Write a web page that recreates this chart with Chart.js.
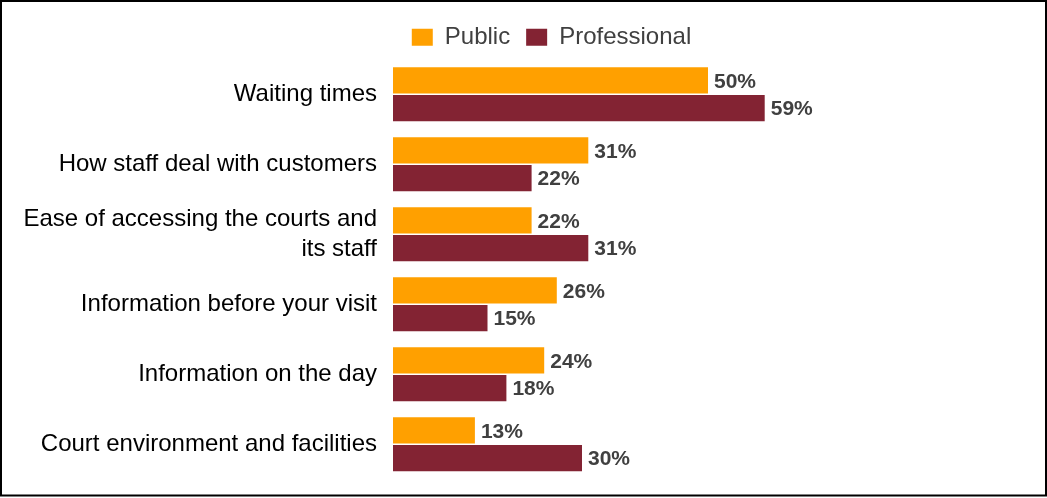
<!DOCTYPE html>
<html>
<head>
<meta charset="utf-8">
<style>
  html, body { margin: 0; padding: 0; background: #fff; }
  #wrap { width: 1047px; height: 498px; position: relative; }
</style>
<script src="https://cdn.jsdelivr.net/npm/chart.js@4/dist/chart.umd.min.js"></script>
</head>
<body>
<div id="wrap"><canvas id="c" width="1047" height="498"></canvas></div>
<script>
const categories = [
  "Waiting times",
  "How staff deal with customers",
  ["Ease of accessing the courts and", "its staff"],
  "Information before your visit",
  "Information on the day",
  "Court environment and facilities"
];
const publicValues = [50, 31, 22, 26, 24, 13];
const professionalValues = [59, 22, 31, 15, 18, 30];
const seriesNames = ["Public", "Professional"];

const FONT = "'Liberation Sans', Arial, sans-serif";

// Percentage labels at the end of each bar
const valueLabels = {
  id: 'valueLabels',
  afterDatasetsDraw(chart) {
    const ctx = chart.ctx;
    ctx.save();
    ctx.font = "bold 21px " + FONT;
    ctx.fillStyle = "#404040";
    ctx.textAlign = "left";
    ctx.textBaseline = "middle";
    chart.data.datasets.forEach((ds, di) => {
      const meta = chart.getDatasetMeta(di);
      meta.data.forEach((bar, i) => {
        ctx.fillText(ds.data[i] + "%", bar.x + 6, bar.y + 1.5);
      });
    });
    ctx.restore();
  }
};

// Nudge the legend row to the right so it sits over the bars
const legendShift = {
  id: 'legendShift',
  afterLayout(chart) {
    const lg = chart.legend;
    if (lg) { lg.left += 40; lg.right += 40; }
  }
};

// Frame around the whole figure
const frame = {
  id: 'frame',
  afterDraw(chart) {
    const ctx = chart.ctx;
    ctx.save();
    ctx.strokeStyle = "#000";
    ctx.lineWidth = 2;
    ctx.strokeRect(1, 1, 1045, 494.5);
    ctx.restore();
  }
};

new Chart(document.getElementById('c'), {
  type: 'bar',
  data: {
    labels: categories,
    datasets: [
      { label: seriesNames[0], data: publicValues, backgroundColor: "#FFA000" },
      { label: seriesNames[1], data: professionalValues, backgroundColor: "#832333" }
    ]
  },
  options: {
    indexAxis: 'y',
    responsive: false,
    animation: false,
    devicePixelRatio: 1,
    categoryPercentage: 0.79,
    barPercentage: 0.95,
    layout: { padding: { left: 0, right: 24, top: 4.5, bottom: 18.7 } },
    plugins: {
      tooltip: { enabled: false },
      legend: {
        position: 'top',
        align: 'center',
        labels: {
          font: { family: FONT, size: 24 },
          color: "#404040",
          boxWidth: 21,
          boxHeight: 17,
          padding: 16
        }
      }
    },
    scales: {
      x: { display: false, min: 0, max: 100 },
      y: {
        grid: { display: false, drawTicks: false },
        border: { display: false },
        ticks: {
          font: { family: FONT, size: 24, lineHeight: 1.25 },
          color: "#000",
          padding: 16
        },
        afterFit(scale) {
          scale.width = 393;
          scale.paddingTop = 59.3;
          scale.paddingBottom = 0;
        }
      }
    }
  },
  plugins: [valueLabels, legendShift, frame]
});
</script>
</body>
</html>
